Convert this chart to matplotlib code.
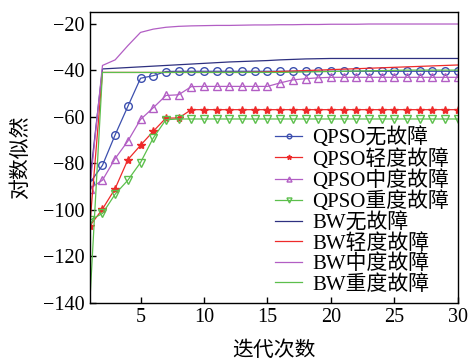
import numpy as np
import matplotlib
matplotlib.use('Agg')
import matplotlib.pyplot as plt

plt.rcParams['font.family'] = ['Liberation Serif', 'Noto Sans CJK SC']
plt.rcParams['axes.unicode_minus'] = True

# iteration number
it = np.arange(1, 31)

# QPSO curves
qpso_none = [-88.5, -80.9, -67.8, -55.6, -43.5, -42.4, -40.6, -40.5, -40.5, -40.5,
             -40.5, -40.5, -40.5, -40.5, -40.5, -40.5, -40.5, -40.5, -40.5, -40.5,
             -40.5, -40.5, -40.5, -40.5, -40.5, -40.5, -40.5, -40.5, -40.5, -40.5]
qpso_light = [-107, -99.7, -90.9, -78.5, -72.3, -66.3, -60.6, -60.6, -57, -57,
              -57, -57, -57, -57, -57, -57, -57, -57, -57, -57,
              -57, -57, -57, -57, -57, -57, -57, -57, -57, -57]
qpso_mid = [-90.9, -87.3, -78, -70.5, -61.2, -56.2, -50.9, -50.6, -47.1, -47,
            -47, -47, -47, -47, -47, -45.5, -44.2, -43.7, -43.3, -43.1,
            -43.1, -43.1, -43.1, -43.1, -43.1, -43.1, -43.1, -43.1, -43.1, -43.1]
qpso_heavy = [-104.5, -101.6, -93.3, -87.3, -79.7, -69.2, -61.3, -61, -61, -61,
              -61, -61, -61, -61, -61, -61, -61, -61, -61, -61,
              -61, -61, -61, -61, -61, -61, -61, -61, -61, -61]

# BW curves
bw_none = [-88, -39.5, -39.2, -38.9, -38.6, -38.3, -38, -37.7, -37.4, -37.1,
           -36.8, -36.5, -36.3, -36.1, -35.9, -35.6, -35.4, -35.2, -35.1, -35,
           -35, -35, -35, -35, -35, -35, -35, -35, -35, -35]
bw_light = [-107, -41, -41, -41, -41, -41, -41, -41, -41, -41,
            -41, -41, -41, -40.9, -40.8, -40.6, -40.4, -40.2, -40, -39.8,
            -39.6, -39.4, -39.2, -39, -38.8, -38.6, -38.4, -38.2, -38, -37.8]
bw_mid = [-91, -38, -35.6, -29.5, -23.8, -22.4, -21.6, -21.2, -21, -20.9,
          -20.8, -20.8, -20.7, -20.6, -20.6, -20.5, -20.5, -20.4, -20.4, -20.3,
          -20.3, -20.3, -20.2, -20.2, -20.2, -20.2, -20.2, -20.2, -20.2, -20.2]
bw_heavy = [-140, -41, -41, -41, -41, -41, -41, -41, -41, -41,
            -41, -41, -41, -41, -41, -41, -40.9, -40.8, -40.7, -40.6,
            -40.5, -40.4, -40.3, -40.2, -40.1, -40, -40, -40, -40, -40]

c_blue = '#3c4fae'
c_navy = '#2e3080'
c_red = '#ee2a2a'
c_purp = '#b25ec4'
c_green = '#5cbf4c'

fig = plt.figure(figsize=(4.7, 3.61), dpi=100)
ax = fig.add_axes([0.191, 0.161, 0.783, 0.806])

lw = 0.9
ax.plot(it, qpso_none, color=c_blue, lw=lw, marker='o', ms=5.5, mfc='none', mec=c_blue, mew=1, label='QPSO无故障')
ax.plot(it, qpso_light, color=c_red, lw=lw, marker='*', ms=6, mfc=c_red, mec=c_red, label='QPSO轻度故障')
ax.plot(it, qpso_mid, color=c_purp, lw=lw, marker='^', ms=6, mfc='none', mec=c_purp, mew=1, label='QPSO中度故障')
ax.plot(it, qpso_heavy, color=c_green, lw=lw, marker='v', ms=6, mfc='none', mec=c_green, mew=1, label='QPSO重度故障')
ax.plot(it, bw_none, color=c_navy, lw=lw, label='BW无故障')
ax.plot(it, bw_light, color=c_red, lw=lw, label='BW轻度故障')
ax.plot(it, bw_mid, color=c_purp, lw=lw, label='BW中度故障')
ax.plot(it, bw_heavy, color=c_green, lw=lw, label='BW重度故障')

ax.set_xlim(1, 30)
ax.set_ylim(-140, -15)
ax.set_xticks([5, 10, 15, 20, 25, 30])
ax.set_yticks([-140, -120, -100, -80, -60, -40, -20])
ax.tick_params(direction='in', length=4, width=1, labelsize=14.5, pad=4,
               top=False, right=False)
for s in ax.spines.values():
    s.set_linewidth(1)

ax.set_xlabel('迭代次数', fontsize=15, labelpad=10)
ax.set_ylabel('对数似然', fontsize=15, labelpad=8)

ax.legend(loc='lower right', bbox_to_anchor=(1.0, 0.0), frameon=False,
          fontsize=15, handlelength=1.3, handletextpad=0.5, markerscale=0.6,
          labelspacing=0.03, borderaxespad=0.2, borderpad=0.2)

fig.savefig('out.png', dpi=100)
